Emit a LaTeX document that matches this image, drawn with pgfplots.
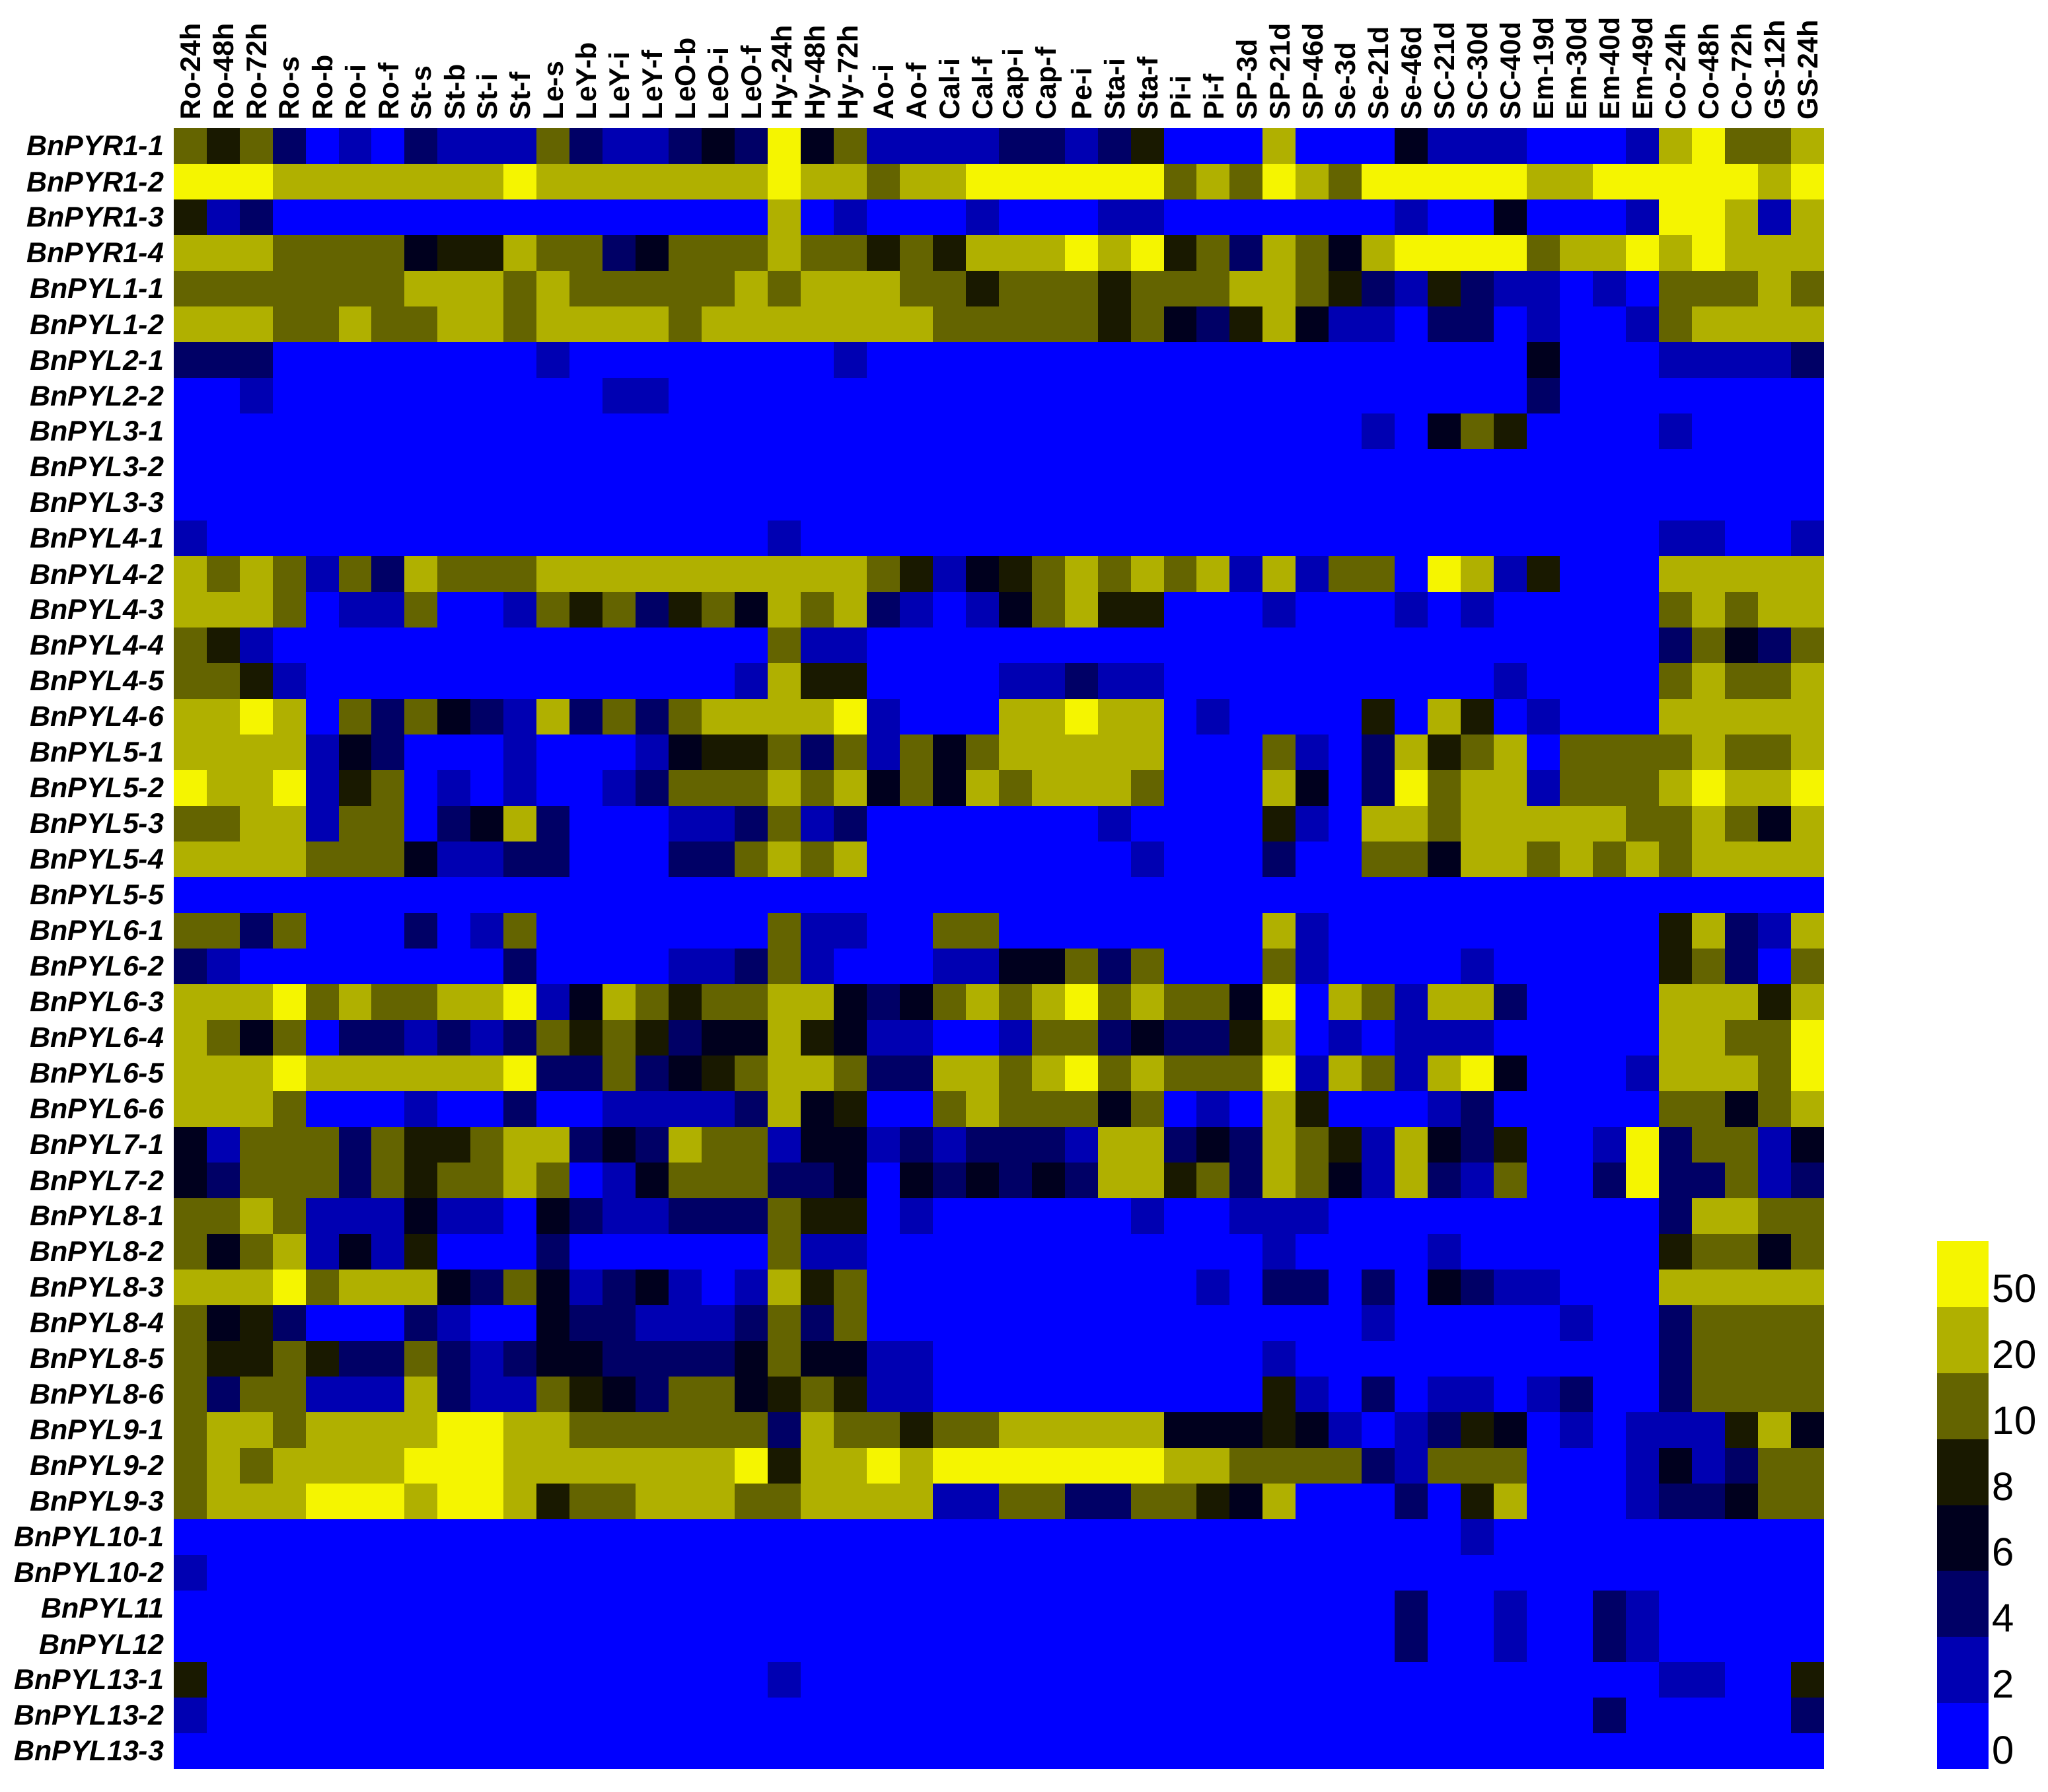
\documentclass[border=0pt]{standalone}
\usepackage{fontspec}
\setmainfont{Liberation Sans}
\usepackage{pgfplots}
\pgfplotsset{compat=1.18}

% one heatmap cell: 624.5pt/50 x 621pt/46, a hair larger to close seams
\pgfdeclareplotmark{cell}{%
  \pgfpathrectangle{\pgfqpoint{-6.32pt}{-6.82pt}}{\pgfqpoint{12.64pt}{13.64pt}}%
  \pgfusepathqfill}

% expression classes: 0:<2 1:2-4 2:4-6 3:6-8 4:8-10 5:10-20 6:20-50 7:>50
\begin{document}
\begin{tikzpicture}
\useasboundingbox (-65.75pt,48.5pt) rectangle (709.25pt,-629.5pt);
\begin{axis}[
  at={(312.25pt,-310.5pt)}, anchor=center,
  scale only axis,
  width=624.5pt, height=621pt,
  xmin=-0.5, xmax=49.5, ymin=-0.5, ymax=45.5,
  y dir=reverse,
  enlargelimits=false,
  axis line style={draw=none},
  major tick length=0pt,
  tick style={draw=none},
  xtick={0,...,49}, ytick={0,...,45},
  xticklabel pos=upper,
  xticklabels={Ro-24h,Ro-48h,Ro-72h,Ro-s,Ro-b,Ro-i,Ro-f,St-s,St-b,St-i,St-f,Le-s,LeY-b,LeY-i,LeY-f,LeO-b,LeO-i,LeO-f,Hy-24h,Hy-48h,Hy-72h,Ao-i,Ao-f,Cal-i,Cal-f,Cap-i,Cap-f,Pe-i,Sta-i,Sta-f,Pi-i,Pi-f,SP-3d,SP-21d,SP-46d,Se-3d,Se-21d,Se-46d,SC-21d,SC-30d,SC-40d,Em-19d,Em-30d,Em-40d,Em-49d,Co-24h,Co-48h,Co-72h,GS-12h,GS-24h},
  yticklabels={BnPYR1-1,BnPYR1-2,BnPYR1-3,BnPYR1-4,BnPYL1-1,BnPYL1-2,BnPYL2-1,BnPYL2-2,BnPYL3-1,BnPYL3-2,BnPYL3-3,BnPYL4-1,BnPYL4-2,BnPYL4-3,BnPYL4-4,BnPYL4-5,BnPYL4-6,BnPYL5-1,BnPYL5-2,BnPYL5-3,BnPYL5-4,BnPYL5-5,BnPYL6-1,BnPYL6-2,BnPYL6-3,BnPYL6-4,BnPYL6-5,BnPYL6-6,BnPYL7-1,BnPYL7-2,BnPYL8-1,BnPYL8-2,BnPYL8-3,BnPYL8-4,BnPYL8-5,BnPYL8-6,BnPYL9-1,BnPYL9-2,BnPYL9-3,BnPYL10-1,BnPYL10-2,BnPYL11,BnPYL12,BnPYL13-1,BnPYL13-2,BnPYL13-3},
  xticklabel style={rotate=90, anchor=west, inner sep=0pt, font=\fontsize{10.75}{12}\selectfont\bfseries},
  yticklabel style={anchor=east, inner sep=0pt, font=\fontsize{10.75}{12}\selectfont\bfseries\itshape},
  xticklabel shift=3pt, yticklabel shift=3.5pt,
  colormap={heat}{rgb255=(0,0,255) rgb255=(0,0,178) rgb255=(0,0,102) rgb255=(0,0,30)
    rgb255=(25,25,0) rgb255=(100,100,0) rgb255=(176,176,0) rgb255=(245,245,0)},
  colormap access=piecewise constant,
  point meta min=0, point meta max=8,
  colorbar,
  colorbar style={
    at={(parent axis.center)}, anchor=center,
    xshift=356.21pt, yshift=-210.5pt,
    scale only axis, width=19.5pt, height=199.5pt,
    axis line style={draw=none},
    major tick length=0pt, tick style={draw=none},
    ytick={0.276,1.276,2.276,3.276,4.276,5.276,6.276,7.276},
    yticklabels={0,2,4,6,8,10,20,50},
    yticklabel style={anchor=west, inner sep=0pt, xshift=1.25pt,
      font=\fontsize{15}{18}\selectfont\mdseries\upshape},
  },
]
\addplot[scatter, only marks, mark=cell, point meta=explicit,
  scatter/use mapped color={draw=mapped color, fill=mapped color}]
  table[row sep=\\, header=false,
        x expr={mod(\coordindex,50)}, y expr={floor((\coordindex+0.5)/50)},
        meta expr={\thisrowno{0}+0.5}] {
5\\4\\5\\2\\0\\ 1\\0\\2\\1\\1\\ 1\\5\\2\\1\\1\\ 2\\3\\2\\7\\3\\ 5\\1\\1\\1\\1\\ 2\\2\\1\\2\\4\\ 0\\0\\0\\6\\0\\ 0\\0\\3\\1\\1\\ 1\\0\\0\\0\\1\\ 6\\7\\5\\5\\6\\
7\\7\\7\\6\\6\\ 6\\6\\6\\6\\6\\ 7\\6\\6\\6\\6\\ 6\\6\\6\\7\\6\\ 6\\5\\6\\6\\7\\ 7\\7\\7\\7\\7\\ 5\\6\\5\\7\\6\\ 5\\7\\7\\7\\7\\ 7\\6\\6\\7\\7\\ 7\\7\\7\\6\\7\\
4\\1\\2\\0\\0\\ 0\\0\\0\\0\\0\\ 0\\0\\0\\0\\0\\ 0\\0\\0\\6\\0\\ 1\\0\\0\\0\\1\\ 0\\0\\0\\1\\1\\ 0\\0\\0\\0\\0\\ 0\\0\\1\\0\\0\\ 3\\0\\0\\0\\1\\ 7\\7\\6\\1\\6\\
6\\6\\6\\5\\5\\ 5\\5\\3\\4\\4\\ 6\\5\\5\\2\\3\\ 5\\5\\5\\6\\5\\ 5\\4\\5\\4\\6\\ 6\\6\\7\\6\\7\\ 4\\5\\2\\6\\5\\ 3\\6\\7\\7\\7\\ 7\\5\\6\\6\\7\\ 6\\7\\6\\6\\6\\
5\\5\\5\\5\\5\\ 5\\5\\6\\6\\6\\ 5\\6\\5\\5\\5\\ 5\\5\\6\\5\\6\\ 6\\6\\5\\5\\4\\ 5\\5\\5\\4\\5\\ 5\\5\\6\\6\\5\\ 4\\2\\1\\4\\2\\ 1\\1\\0\\1\\0\\ 5\\5\\5\\6\\5\\
6\\6\\6\\5\\5\\ 6\\5\\5\\6\\6\\ 5\\6\\6\\6\\6\\ 5\\6\\6\\6\\6\\ 6\\6\\6\\5\\5\\ 5\\5\\5\\4\\5\\ 3\\2\\4\\6\\3\\ 1\\1\\0\\2\\2\\ 0\\1\\0\\0\\1\\ 5\\6\\6\\6\\6\\
2\\2\\2\\0\\0\\ 0\\0\\0\\0\\0\\ 0\\1\\0\\0\\0\\ 0\\0\\0\\0\\0\\ 1\\0\\0\\0\\0\\ 0\\0\\0\\0\\0\\ 0\\0\\0\\0\\0\\ 0\\0\\0\\0\\0\\ 0\\3\\0\\0\\0\\ 1\\1\\1\\1\\2\\
0\\0\\1\\0\\0\\ 0\\0\\0\\0\\0\\ 0\\0\\0\\1\\1\\ 0\\0\\0\\0\\0\\ 0\\0\\0\\0\\0\\ 0\\0\\0\\0\\0\\ 0\\0\\0\\0\\0\\ 0\\0\\0\\0\\0\\ 0\\2\\0\\0\\0\\ 0\\0\\0\\0\\0\\
0\\0\\0\\0\\0\\ 0\\0\\0\\0\\0\\ 0\\0\\0\\0\\0\\ 0\\0\\0\\0\\0\\ 0\\0\\0\\0\\0\\ 0\\0\\0\\0\\0\\ 0\\0\\0\\0\\0\\ 0\\1\\0\\3\\5\\ 4\\0\\0\\0\\0\\ 1\\0\\0\\0\\0\\
0\\0\\0\\0\\0\\ 0\\0\\0\\0\\0\\ 0\\0\\0\\0\\0\\ 0\\0\\0\\0\\0\\ 0\\0\\0\\0\\0\\ 0\\0\\0\\0\\0\\ 0\\0\\0\\0\\0\\ 0\\0\\0\\0\\0\\ 0\\0\\0\\0\\0\\ 0\\0\\0\\0\\0\\
0\\0\\0\\0\\0\\ 0\\0\\0\\0\\0\\ 0\\0\\0\\0\\0\\ 0\\0\\0\\0\\0\\ 0\\0\\0\\0\\0\\ 0\\0\\0\\0\\0\\ 0\\0\\0\\0\\0\\ 0\\0\\0\\0\\0\\ 0\\0\\0\\0\\0\\ 0\\0\\0\\0\\0\\
1\\0\\0\\0\\0\\ 0\\0\\0\\0\\0\\ 0\\0\\0\\0\\0\\ 0\\0\\0\\1\\0\\ 0\\0\\0\\0\\0\\ 0\\0\\0\\0\\0\\ 0\\0\\0\\0\\0\\ 0\\0\\0\\0\\0\\ 0\\0\\0\\0\\0\\ 1\\1\\0\\0\\1\\
6\\5\\6\\5\\1\\ 5\\2\\6\\5\\5\\ 5\\6\\6\\6\\6\\ 6\\6\\6\\6\\6\\ 6\\5\\4\\1\\3\\ 4\\5\\6\\5\\6\\ 5\\6\\1\\6\\1\\ 5\\5\\0\\7\\6\\ 1\\4\\0\\0\\0\\ 6\\6\\6\\6\\6\\
6\\6\\6\\5\\0\\ 1\\1\\5\\0\\0\\ 1\\5\\4\\5\\2\\ 4\\5\\3\\6\\5\\ 6\\2\\1\\0\\1\\ 3\\5\\6\\4\\4\\ 0\\0\\0\\1\\0\\ 0\\0\\1\\0\\1\\ 0\\0\\0\\0\\0\\ 5\\6\\5\\6\\6\\
5\\4\\1\\0\\0\\ 0\\0\\0\\0\\0\\ 0\\0\\0\\0\\0\\ 0\\0\\0\\5\\1\\ 1\\0\\0\\0\\0\\ 0\\0\\0\\0\\0\\ 0\\0\\0\\0\\0\\ 0\\0\\0\\0\\0\\ 0\\0\\0\\0\\0\\ 2\\5\\3\\2\\5\\
5\\5\\4\\1\\0\\ 0\\0\\0\\0\\0\\ 0\\0\\0\\0\\0\\ 0\\0\\1\\6\\4\\ 4\\0\\0\\0\\0\\ 1\\1\\2\\1\\1\\ 0\\0\\0\\0\\0\\ 0\\0\\0\\0\\0\\ 1\\0\\0\\0\\0\\ 5\\6\\5\\5\\6\\
6\\6\\7\\6\\0\\ 5\\2\\5\\3\\2\\ 1\\6\\2\\5\\2\\ 5\\6\\6\\6\\6\\ 7\\1\\0\\0\\0\\ 6\\6\\7\\6\\6\\ 0\\1\\0\\0\\0\\ 0\\4\\0\\6\\4\\ 0\\1\\0\\0\\0\\ 6\\6\\6\\6\\6\\
6\\6\\6\\6\\1\\ 3\\2\\0\\0\\0\\ 1\\0\\0\\0\\1\\ 3\\4\\4\\5\\2\\ 5\\1\\5\\3\\5\\ 6\\6\\6\\6\\6\\ 0\\0\\0\\5\\1\\ 0\\2\\6\\4\\5\\ 6\\0\\5\\5\\5\\ 5\\6\\5\\5\\6\\
7\\6\\6\\7\\1\\ 4\\5\\0\\1\\0\\ 1\\0\\0\\1\\2\\ 5\\5\\5\\6\\5\\ 6\\3\\5\\3\\6\\ 5\\6\\6\\6\\5\\ 0\\0\\0\\6\\3\\ 0\\2\\7\\5\\6\\ 6\\1\\5\\5\\5\\ 6\\7\\6\\6\\7\\
5\\5\\6\\6\\1\\ 5\\5\\0\\2\\3\\ 6\\2\\0\\0\\0\\ 1\\1\\2\\5\\1\\ 2\\0\\0\\0\\0\\ 0\\0\\0\\1\\0\\ 0\\0\\0\\4\\1\\ 0\\6\\6\\5\\6\\ 6\\6\\6\\6\\5\\ 5\\6\\5\\3\\6\\
6\\6\\6\\6\\5\\ 5\\5\\3\\1\\1\\ 2\\2\\0\\0\\0\\ 2\\2\\5\\6\\5\\ 6\\0\\0\\0\\0\\ 0\\0\\0\\0\\1\\ 0\\0\\0\\2\\0\\ 0\\5\\5\\3\\6\\ 6\\5\\6\\5\\6\\ 5\\6\\6\\6\\6\\
0\\0\\0\\0\\0\\ 0\\0\\0\\0\\0\\ 0\\0\\0\\0\\0\\ 0\\0\\0\\0\\0\\ 0\\0\\0\\0\\0\\ 0\\0\\0\\0\\0\\ 0\\0\\0\\0\\0\\ 0\\0\\0\\0\\0\\ 0\\0\\0\\0\\0\\ 0\\0\\0\\0\\0\\
5\\5\\2\\5\\0\\ 0\\0\\2\\0\\1\\ 5\\0\\0\\0\\0\\ 0\\0\\0\\5\\1\\ 1\\0\\0\\5\\5\\ 0\\0\\0\\0\\0\\ 0\\0\\0\\6\\1\\ 0\\0\\0\\0\\0\\ 0\\0\\0\\0\\0\\ 4\\6\\2\\1\\6\\
2\\1\\0\\0\\0\\ 0\\0\\0\\0\\0\\ 2\\0\\0\\0\\0\\ 1\\1\\2\\5\\1\\ 0\\0\\0\\1\\1\\ 3\\3\\5\\2\\5\\ 0\\0\\0\\5\\1\\ 0\\0\\0\\0\\1\\ 0\\0\\0\\0\\0\\ 4\\5\\2\\0\\5\\
6\\6\\6\\7\\5\\ 6\\5\\5\\6\\6\\ 7\\1\\3\\6\\5\\ 4\\5\\5\\6\\6\\ 3\\2\\3\\5\\6\\ 5\\6\\7\\5\\6\\ 5\\5\\3\\7\\0\\ 6\\5\\1\\6\\6\\ 2\\0\\0\\0\\0\\ 6\\6\\6\\4\\6\\
6\\5\\3\\5\\0\\ 2\\2\\1\\2\\1\\ 2\\5\\4\\5\\4\\ 2\\3\\3\\6\\4\\ 3\\1\\1\\0\\0\\ 1\\5\\5\\2\\3\\ 2\\2\\4\\6\\0\\ 1\\0\\1\\1\\1\\ 0\\0\\0\\0\\0\\ 6\\6\\5\\5\\7\\
6\\6\\6\\7\\6\\ 6\\6\\6\\6\\6\\ 7\\2\\2\\5\\2\\ 3\\4\\5\\6\\6\\ 5\\2\\2\\6\\6\\ 5\\6\\7\\5\\6\\ 5\\5\\5\\7\\1\\ 6\\5\\1\\6\\7\\ 3\\0\\0\\0\\1\\ 6\\6\\6\\5\\7\\
6\\6\\6\\5\\0\\ 0\\0\\1\\0\\0\\ 2\\0\\0\\1\\1\\ 1\\1\\2\\6\\3\\ 4\\0\\0\\5\\6\\ 5\\5\\5\\3\\5\\ 0\\1\\0\\6\\4\\ 0\\0\\0\\1\\2\\ 0\\0\\0\\0\\0\\ 5\\5\\3\\5\\6\\
3\\1\\5\\5\\5\\ 2\\5\\4\\4\\5\\ 6\\6\\2\\3\\2\\ 6\\5\\5\\1\\3\\ 3\\1\\2\\1\\2\\ 2\\2\\1\\6\\6\\ 2\\3\\2\\6\\5\\ 4\\1\\6\\3\\2\\ 4\\0\\0\\1\\7\\ 2\\5\\5\\1\\3\\
3\\2\\5\\5\\5\\ 2\\5\\4\\5\\5\\ 6\\5\\0\\1\\3\\ 5\\5\\5\\2\\2\\ 3\\0\\3\\2\\3\\ 2\\3\\2\\6\\6\\ 4\\5\\2\\6\\5\\ 3\\1\\6\\2\\1\\ 5\\0\\0\\2\\7\\ 2\\2\\5\\1\\2\\
5\\5\\6\\5\\1\\ 1\\1\\3\\1\\1\\ 0\\3\\2\\1\\1\\ 2\\2\\2\\5\\4\\ 4\\0\\1\\0\\0\\ 0\\0\\0\\0\\1\\ 0\\0\\1\\1\\1\\ 0\\0\\0\\0\\0\\ 0\\0\\0\\0\\0\\ 2\\6\\6\\5\\5\\
5\\3\\5\\6\\1\\ 3\\1\\4\\0\\0\\ 0\\2\\0\\0\\0\\ 0\\0\\0\\5\\1\\ 1\\0\\0\\0\\0\\ 0\\0\\0\\0\\0\\ 0\\0\\0\\1\\0\\ 0\\0\\0\\1\\0\\ 0\\0\\0\\0\\0\\ 4\\5\\5\\3\\5\\
6\\6\\6\\7\\5\\ 6\\6\\6\\3\\2\\ 5\\3\\1\\2\\3\\ 1\\0\\1\\6\\4\\ 5\\0\\0\\0\\0\\ 0\\0\\0\\0\\0\\ 0\\1\\0\\2\\2\\ 0\\2\\0\\3\\2\\ 1\\1\\0\\0\\0\\ 6\\6\\6\\6\\6\\
5\\3\\4\\2\\0\\ 0\\0\\2\\1\\0\\ 0\\3\\2\\2\\1\\ 1\\1\\2\\5\\2\\ 5\\0\\0\\0\\0\\ 0\\0\\0\\0\\0\\ 0\\0\\0\\0\\0\\ 0\\1\\0\\0\\0\\ 0\\0\\1\\0\\0\\ 2\\5\\5\\5\\5\\
5\\4\\4\\5\\4\\ 2\\2\\5\\2\\1\\ 2\\3\\3\\2\\2\\ 2\\2\\3\\5\\3\\ 3\\1\\1\\0\\0\\ 0\\0\\0\\0\\0\\ 0\\0\\0\\1\\0\\ 0\\0\\0\\0\\0\\ 0\\0\\0\\0\\0\\ 2\\5\\5\\5\\5\\
5\\2\\5\\5\\1\\ 1\\1\\6\\2\\1\\ 1\\5\\4\\3\\2\\ 5\\5\\3\\4\\5\\ 4\\1\\1\\0\\0\\ 0\\0\\0\\0\\0\\ 0\\0\\0\\4\\1\\ 0\\2\\0\\1\\1\\ 0\\1\\2\\0\\0\\ 2\\5\\5\\5\\5\\
5\\6\\6\\5\\6\\ 6\\6\\6\\7\\7\\ 6\\6\\5\\5\\5\\ 5\\5\\5\\2\\6\\ 5\\5\\4\\5\\5\\ 6\\6\\6\\6\\6\\ 3\\3\\3\\4\\3\\ 1\\0\\1\\2\\4\\ 3\\0\\1\\0\\1\\ 1\\1\\4\\6\\3\\
5\\6\\5\\6\\6\\ 6\\6\\7\\7\\7\\ 6\\6\\6\\6\\6\\ 6\\6\\7\\4\\6\\ 6\\7\\6\\7\\7\\ 7\\7\\7\\7\\7\\ 6\\6\\5\\5\\5\\ 5\\2\\1\\5\\5\\ 5\\0\\0\\0\\1\\ 3\\1\\2\\5\\5\\
5\\6\\6\\6\\7\\ 7\\7\\6\\7\\7\\ 6\\4\\5\\5\\6\\ 6\\6\\5\\5\\6\\ 6\\6\\6\\1\\1\\ 5\\5\\2\\2\\5\\ 5\\4\\3\\6\\0\\ 0\\0\\2\\0\\4\\ 6\\0\\0\\0\\1\\ 2\\2\\3\\5\\5\\
0\\0\\0\\0\\0\\ 0\\0\\0\\0\\0\\ 0\\0\\0\\0\\0\\ 0\\0\\0\\0\\0\\ 0\\0\\0\\0\\0\\ 0\\0\\0\\0\\0\\ 0\\0\\0\\0\\0\\ 0\\0\\0\\0\\1\\ 0\\0\\0\\0\\0\\ 0\\0\\0\\0\\0\\
1\\0\\0\\0\\0\\ 0\\0\\0\\0\\0\\ 0\\0\\0\\0\\0\\ 0\\0\\0\\0\\0\\ 0\\0\\0\\0\\0\\ 0\\0\\0\\0\\0\\ 0\\0\\0\\0\\0\\ 0\\0\\0\\0\\0\\ 0\\0\\0\\0\\0\\ 0\\0\\0\\0\\0\\
0\\0\\0\\0\\0\\ 0\\0\\0\\0\\0\\ 0\\0\\0\\0\\0\\ 0\\0\\0\\0\\0\\ 0\\0\\0\\0\\0\\ 0\\0\\0\\0\\0\\ 0\\0\\0\\0\\0\\ 0\\0\\2\\0\\0\\ 1\\0\\0\\2\\1\\ 0\\0\\0\\0\\0\\
0\\0\\0\\0\\0\\ 0\\0\\0\\0\\0\\ 0\\0\\0\\0\\0\\ 0\\0\\0\\0\\0\\ 0\\0\\0\\0\\0\\ 0\\0\\0\\0\\0\\ 0\\0\\0\\0\\0\\ 0\\0\\2\\0\\0\\ 1\\0\\0\\2\\1\\ 0\\0\\0\\0\\0\\
4\\0\\0\\0\\0\\ 0\\0\\0\\0\\0\\ 0\\0\\0\\0\\0\\ 0\\0\\0\\1\\0\\ 0\\0\\0\\0\\0\\ 0\\0\\0\\0\\0\\ 0\\0\\0\\0\\0\\ 0\\0\\0\\0\\0\\ 0\\0\\0\\0\\0\\ 1\\1\\0\\0\\4\\
1\\0\\0\\0\\0\\ 0\\0\\0\\0\\0\\ 0\\0\\0\\0\\0\\ 0\\0\\0\\0\\0\\ 0\\0\\0\\0\\0\\ 0\\0\\0\\0\\0\\ 0\\0\\0\\0\\0\\ 0\\0\\0\\0\\0\\ 0\\0\\0\\2\\0\\ 0\\0\\0\\0\\2\\
0\\0\\0\\0\\0\\ 0\\0\\0\\0\\0\\ 0\\0\\0\\0\\0\\ 0\\0\\0\\0\\0\\ 0\\0\\0\\0\\0\\ 0\\0\\0\\0\\0\\ 0\\0\\0\\0\\0\\ 0\\0\\0\\0\\0\\ 0\\0\\0\\0\\0\\ 0\\0\\0\\0\\0\\
};
\end{axis}
\end{tikzpicture}
\end{document}
